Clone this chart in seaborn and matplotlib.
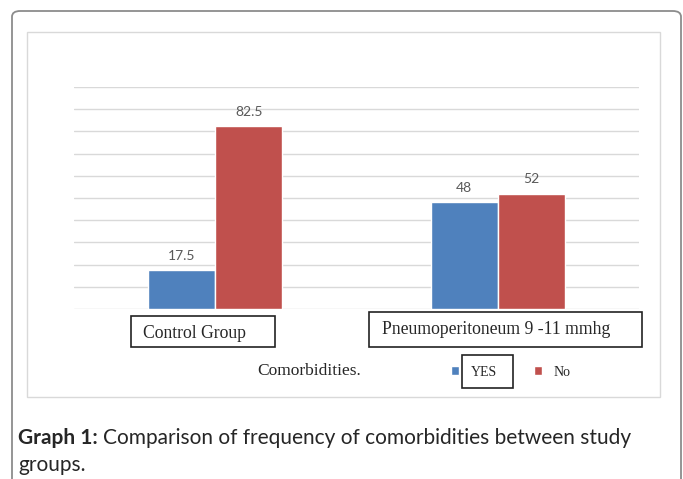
import numpy as np
import pandas as pd
import matplotlib.pyplot as plt
import matplotlib.patches as mpatches
import seaborn as sns

# data
groups = ['Control Group', 'Pneumoperitoneum 9 -11 mmhg']
answers = ['YES', 'No']
yes_vals = [17.5, 48]
no_vals = [82.5, 52]
val_labels = {'YES': ['17.5', '48'], 'No': ['82.5', '52']}

df = pd.DataFrame({
    'group': groups * 2,
    'answer': ['YES'] * len(groups) + ['No'] * len(groups),
    'value': yes_vals + no_vals,
})

sns.set_theme(style="white")
plt.rcParams['font.family'] = ['DejaVu Sans']

W, H = 683, 479
fig = plt.figure(figsize=(W / 100, H / 100), dpi=100)


def px_box(x0, y0, x1, y1, **kw):
    # rectangle given in pixel coords (origin top-left)
    r = mpatches.Rectangle((x0 / W, 1 - y1 / H), (x1 - x0) / W, (y1 - y0) / H,
                           transform=fig.transFigure, fill=False, **kw)
    fig.patches.append(r)
    return r


# outer rounded frame and inner chart frame
outer = mpatches.FancyBboxPatch((12 / W, -0.1), (681 - 12) / W, 1.1 - 11 / H,
                                boxstyle="round,pad=0,rounding_size=0.012",
                                transform=fig.transFigure, fill=False,
                                edgecolor='#8c8c8c', linewidth=1.3)
fig.patches.append(outer)
px_box(27, 32, 660, 397, edgecolor='#d9d9d9', linewidth=1)

ax = fig.add_axes([74 / W, 1 - 309 / H, 565 / W, 222 / H])
sns.barplot(data=df, x='group', y='value', hue='answer', hue_order=answers,
            palette={'YES': '#4F81BD', 'No': '#C0504D'}, width=0.475,
            saturation=1, ax=ax, legend=True)

ax.set_ylim(0, 100)
ax.set_xlim(-0.5, 1.5)
ax.set_yticks(np.arange(0, 101, 10))
ax.yaxis.grid(True, color='#d9d9d9', linewidth=1)
ax.set_axisbelow(True)
ax.set_yticklabels([])
ax.set_xticks([])
ax.set_xlabel('')
ax.set_ylabel('')
ax.tick_params(left=False, bottom=False)
for s in ax.spines.values():
    s.set_visible(False)

for cont, ans in zip(ax.containers, answers):
    ax.bar_label(cont, labels=val_labels[ans], padding=6, fontsize=10,
                 color='#595959', family='Lato')

# category labels in boxes
px_box(131, 316, 275, 347, edgecolor='#222222', linewidth=1.2)
fig.text(143 / W, 1 - 333 / H, groups[0], family='Liberation Serif',
         fontsize=12.7, va='center', ha='left')
px_box(369, 312, 642, 347, edgecolor='#222222', linewidth=1.2)
fig.text(382 / W, 1 - 329 / H, groups[1], family='Liberation Serif',
         fontsize=12.7, va='center', ha='left')

fig.text(257 / W, 1 - 371 / H, 'Comorbidities.', family='Liberation Serif',
         fontsize=12.5, va='center', ha='left')

leg = ax.legend(loc='center left', bbox_to_anchor=(444 / W, 1 - 372 / H),
                bbox_transform=fig.transFigure, ncol=2, frameon=False,
                borderpad=0, handlelength=0.6, handleheight=0.6,
                handletextpad=0.8, columnspacing=2.7,
                prop={'family': 'Liberation Serif', 'size': 10})
px_box(462, 355, 513, 388, edgecolor='#222222', linewidth=1.2)

# caption
t1 = fig.text(18 / W, 1 - 438 / H, 'Graph 1:', family='Lato', fontweight='bold',
              fontsize=15.0, va='center', ha='left')
fig.canvas.draw()
bb = t1.get_window_extent()
fig.text(bb.x1 / W + 5 / W, 1 - 438 / H,
         'Comparison of frequency of comorbidities between study',
         family='Lato', fontsize=15.0, va='center', ha='left')
fig.text(18 / W, 1 - 465 / H, 'groups.', family='Lato', fontsize=15.0,
         va='center', ha='left')

fig.savefig('out.png', dpi=100)
